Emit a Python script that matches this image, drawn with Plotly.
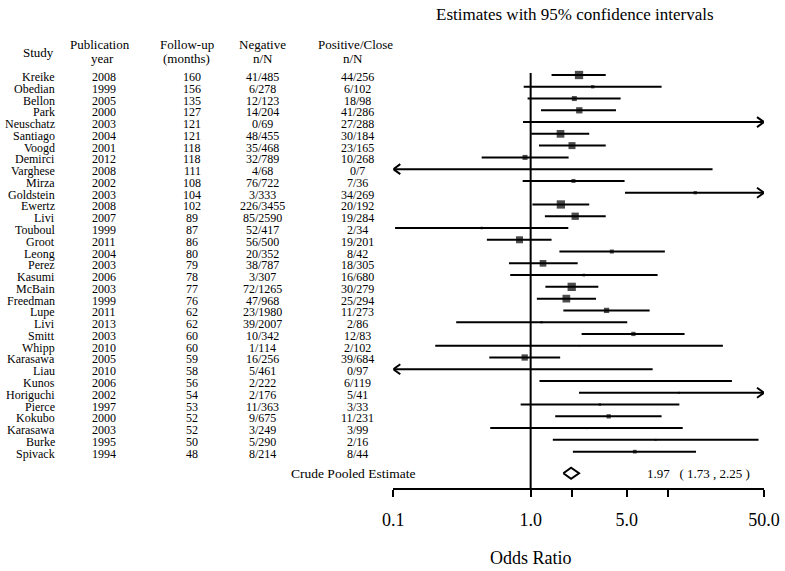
import math
import plotly.graph_objects as go

# ---------------- data ----------------
studies = ["Kreike", "Obedian", "Bellon", "Park", "Neuschatz", "Santiago", "Voogd",
           "Demirci", "Varghese", "Mirza", "Goldstein", "Ewertz", "Livi", "Touboul",
           "Groot", "Leong", "Perez", "Kasumi", "McBain", "Freedman", "Lupe", "Livi",
           "Smitt", "Whipp", "Karasawa", "Liau", "Kunos", "Horiguchi", "Pierce",
           "Kokubo", "Karasawa", "Burke", "Spivack"]
pub_year = [2008, 1999, 2005, 2000, 2003, 2004, 2001, 2012, 2008, 2002, 2003, 2008,
            2007, 1999, 2011, 2004, 2003, 2006, 2003, 1999, 2011, 2013, 2003, 2010,
            2005, 2010, 2006, 2002, 1997, 2000, 2003, 1995, 1994]
followup = [160, 156, 135, 127, 121, 121, 118, 118, 111, 108, 104, 102, 89, 87, 86,
            80, 79, 78, 77, 76, 62, 62, 60, 60, 59, 58, 56, 54, 53, 52, 52, 50, 48]
neg_nN = ["41/485", "6/278", "12/123", "14/204", "0/69", "48/455", "35/468", "32/789",
          "4/68", "76/722", "3/333", "226/3455", "85/2590", "52/417", "56/500", "20/352",
          "38/787", "3/307", "72/1265", "47/968", "23/1980", "39/2007", "10/342", "1/114",
          "16/256", "5/461", "2/222", "2/176", "11/363", "9/675", "3/249", "5/290", "8/214"]
pos_nN = ["44/256", "6/102", "18/98", "41/286", "27/288", "30/184", "23/165", "10/268",
          "0/7", "7/36", "34/269", "20/192", "19/284", "2/34", "19/201", "8/42",
          "18/305", "16/680", "30/279", "25/294", "11/273", "2/86", "12/83", "2/102",
          "39/684", "0/97", "6/119", "5/41", "3/33", "11/231", "3/99", "2/16", "8/44"]
# odds ratio estimates and 95% CI; None = beyond the axis (drawn as an arrow) / not estimable
or_est = [2.25, 2.83, 2.08, 2.26, None, 1.65, 2.00, 0.91, None, 2.05, 15.8, 1.66,
          2.11, 0.44, 0.83, 3.90, 1.23, 2.44, 1.99, 1.82, 3.57, 1.20, 5.60, 2.26,
          0.905, None, 5.84, 12.0, 3.19, 3.70, 2.57, 8.13, 5.73]
ci_lo = [1.42, 0.89, 0.95, 1.19, 0.88, 1.01, 1.15, 0.44, None, 0.875, 4.86, 1.03,
         1.27, 0.103, 0.48, 1.62, 0.695, 0.71, 1.28, 1.11, 1.73, 0.287, 2.35, 0.202,
         0.50, None, 1.16, 2.25, 0.846, 1.51, 0.508, 1.45, 2.03]
ci_hi = [3.52, 8.98, 4.52, 4.18, None, 2.67, 3.52, 1.89, 21.1, 4.83, None, 2.67,
         3.52, 1.88, 1.42, 9.49, 2.20, 8.40, 3.11, 2.99, 7.35, 5.05, 13.2, 25.1,
         1.64, 7.73, 29.2, None, 12.1, 8.98, 12.8, 45.6, 16.0]
pooled_est, pooled_lo, pooled_hi = 1.97, 1.73, 2.25
x_ticks = [0.1, 1, 2, 5, 10, 50]
x_tick_labels = ["0.1", "1.0", "", "5.0", "", "50.0"]

# ---------------- styling / layout ----------------
square_px = [8.3, 3.3, 5, 6.3, 0, 7.7, 7, 5, 0, 4, 3.3, 8.3, 7.3, 2.3, 7, 4, 6.7,
             2.7, 8.3, 7.7, 5.3, 2.3, 4.3, 1.5, 6.3, 0, 2, 2, 2.5, 4.3, 2, 2, 3.7]

W, H = 785, 571
FONT = "Liberation Serif"
ROW0_PX, ROW_PX = 75.0, 11.77
X_LEFT_PX, X_RIGHT_PX = 393.3, 764.0
AXIS_PX = 488.5
XMIN, XMAX = x_ticks[0], x_ticks[-1]
PX_PER_DEC = (X_RIGHT_PX - X_LEFT_PX) / (math.log10(XMAX) - math.log10(XMIN))


def row_of_px(p):
    return (p - ROW0_PX) / ROW_PX


def paper_x(p):
    return p / W


def paper_y(p):
    return 1 - p / H


n = len(studies)
rows = list(range(n))
pooled_row = row_of_px(473.3)
axis_row = row_of_px(AXIS_PX)

fig = go.Figure()

# vertical reference line at OR = 1
fig.add_trace(go.Scatter(x=[1, 1], y=[row_of_px(73), axis_row], mode="lines",
                         line=dict(color="black", width=2), hoverinfo="skip",
                         showlegend=False))

# CI lines + arrows
cx, cy = [], []
ax_, ay_ = [], []
arm_f = 10 ** (7 / PX_PER_DEC)
arm_r = 5 / ROW_PX
for i in rows:
    lo = ci_lo[i] if ci_lo[i] is not None else XMIN
    hi = ci_hi[i] if ci_hi[i] is not None else XMAX
    cx += [lo, hi, None]
    cy += [i, i, None]
    if ci_hi[i] is None:
        ax_ += [XMAX / arm_f, XMAX, XMAX / arm_f, None]
        ay_ += [i - arm_r, i, i + arm_r, None]
    if ci_lo[i] is None:
        ax_ += [XMIN * arm_f, XMIN, XMIN * arm_f, None]
        ay_ += [i - arm_r, i, i + arm_r, None]
fig.add_trace(go.Scatter(x=cx, y=cy, mode="lines", line=dict(color="black", width=2),
                         hoverinfo="skip", showlegend=False))
fig.add_trace(go.Scatter(x=ax_, y=ay_, mode="lines", line=dict(color="black", width=2),
                         hoverinfo="skip", showlegend=False))

# squares
sx = [or_est[i] for i in rows if or_est[i] is not None]
sy = [i for i in rows if or_est[i] is not None]
ss = [square_px[i] for i in rows if or_est[i] is not None]
fig.add_trace(go.Scatter(x=sx, y=sy, mode="markers",
                         marker=dict(symbol="square", size=ss, color="black",
                                     line=dict(width=0)),
                         hoverinfo="skip", showlegend=False))

# pooled diamond
dh = 5.5 / ROW_PX
fig.add_trace(go.Scatter(x=[pooled_lo, pooled_est, pooled_hi, pooled_est, pooled_lo],
                         y=[pooled_row, pooled_row - dh, pooled_row, pooled_row + dh, pooled_row],
                         mode="lines", line=dict(color="black", width=2),
                         hoverinfo="skip", showlegend=False))

ann = []


def txt(text, xpx, ypx, size, anchor="center"):
    ann.append(dict(text=text, x=paper_x(xpx), y=paper_y(ypx), xref="paper",
                    yref="paper", xanchor=anchor, yanchor="middle", showarrow=False,
                    borderpad=0,
                    font=dict(family=FONT, size=size, color="black")))


# headers
txt("Study", 38, 52, 13)
txt("Publication", 100, 45, 13)
txt("year", 102, 58.3, 13)
txt("Follow-up", 186.5, 45, 13)
txt("(months)", 186.5, 58.3, 13)
txt("Negative", 262, 45, 13)
txt("n/N", 263, 58.3, 13)
txt("Positive/Close", 355.5, 45, 13)
txt("n/N", 353, 58.3, 13)

# table body
for i in rows:
    ypx = ROW0_PX + i * ROW_PX + 2
    txt(studies[i], 56, ypx, 12, "right")
    txt(str(pub_year[i]), 104, ypx, 12)
    txt(str(followup[i]), 192, ypx, 12)
    txt(neg_nN[i], 262, ypx, 12)
    txt(pos_nN[i], 357, ypx, 12)

txt("Estimates with 95% confidence intervals", 574.7, 14, 17)
txt("Crude Pooled Estimate", 290, 473.5, 13.5, "left")
nb = "\u00a0"
txt(f"{pooled_est:.2f}{nb*3}({nb}{pooled_lo:.2f}{nb},{nb}{pooled_hi:.2f}{nb})", 646, 473.5, 13, "left")
txt("Odds Ratio", 530.5, 558, 18)

fig.update_layout(
    width=W, height=H, autosize=False, margin=dict(l=0, r=0, t=0, b=0, pad=0),
    paper_bgcolor="white", plot_bgcolor="white",
    showlegend=False, annotations=ann,
    xaxis=dict(type="log", range=[math.log10(XMIN), math.log10(XMAX)],
               domain=[paper_x(X_LEFT_PX), paper_x(X_RIGHT_PX)],
               anchor="free", position=paper_y(AXIS_PX), automargin=False,
               showline=True, linecolor="black", linewidth=2,
               ticks="outside", ticklen=7, tickwidth=2, tickcolor="black",
               tickvals=x_ticks, ticktext=x_tick_labels,
               tickfont=dict(family=FONT, size=18, color="black"),
               ticklabelstandoff=8,
               showgrid=False, zeroline=False, fixedrange=True),
    yaxis=dict(range=[row_of_px(H), row_of_px(0)], visible=False, automargin=False,
               showgrid=False, zeroline=False, fixedrange=True),
)

post = (
    "document.documentElement.style.overflow='hidden';"
    "document.body.style.margin='0';document.body.style.overflow='hidden';"
    "var gd=document.getElementById('{plot_id}');"
    "gd.style.width='%dpx';gd.style.height='%dpx';"
    "Plotly.relayout(gd,{width:%d,height:%d});" % (W, H, W, H)
)
fig.write_html(
    "out.html",
    config={"displayModeBar": False, "responsive": False},
    post_script=post,
)
